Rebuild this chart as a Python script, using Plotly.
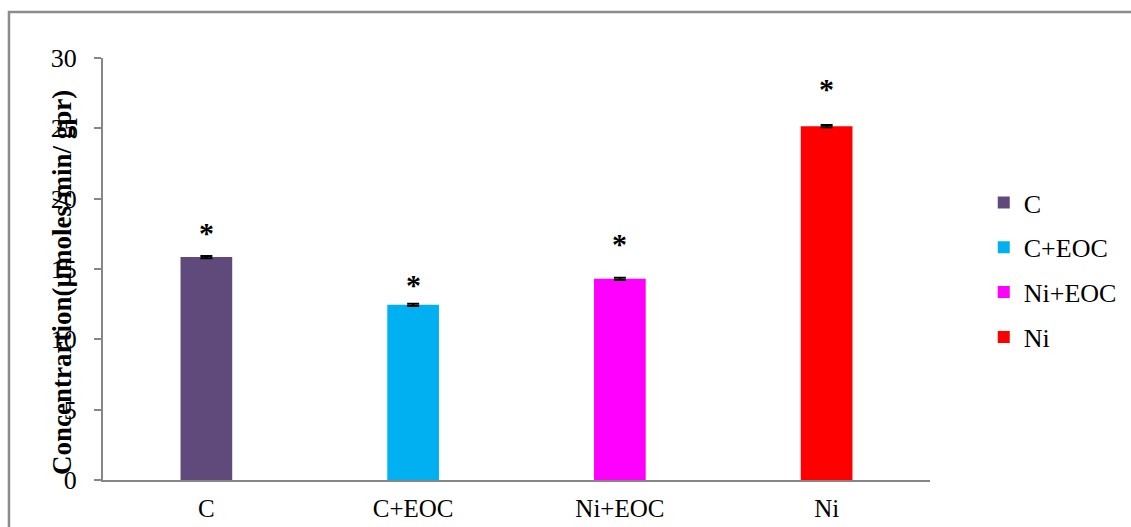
import plotly.graph_objects as go

# Group labels, means and small standard errors
groups = ["C", "C+EOC", "Ni+EOC", "Ni"]
values = [15.85, 12.45, 14.3, 25.15]
errors = [0.08, 0.08, 0.08, 0.08]
colors = ["#604A7B", "#00B0F0", "#FF00FF", "#FF0000"]
# Height (data units) of each significance star
star_y = [18.05, 14.36, 17.27, 28.29]
y_ticks = [0, 5, 10, 15, 20, 25, 30]

FONT = "Liberation Serif, Times New Roman, serif"

fig = go.Figure()
for g, v, e, c in zip(groups, values, errors, colors):
    fig.add_trace(go.Bar(
        x=[g], y=[v], name=g, width=0.25,
        marker=dict(color=c, line=dict(width=0)),
        error_y=dict(type="data", array=[e], visible=True,
                     color="black", thickness=2, width=6),
        legendgroup=g,
    ))

for g, s in zip(groups, star_y):
    fig.add_annotation(x=g, y=s, xref="x", yref="y", text="<b>*</b>",
                       showarrow=False, yanchor="middle", yshift=-6,
                       font=dict(family=FONT, size=30, color="black"))

# Rotated y-axis title, sitting over the tick labels
fig.add_annotation(xref="paper", yref="paper", x=-0.0496, y=0.469,
                   text="<b>Concentrartion(µmoles/min/ gpr)</b>",
                   textangle=-90, showarrow=False,
                   xanchor="center", yanchor="middle",
                   font=dict(family=FONT, size=27, color="black"))

# Outer frame
fig.add_shape(type="rect", xref="paper", yref="paper",
              x0=-0.1137, x1=1.4, y0=-0.3, y1=1.109,
              line=dict(color="#8C8C8C", width=2.5), layer="below")

fig.update_layout(
    width=1131, height=527,
    margin=dict(l=103, r=201, t=58, b=47, autoexpand=False),
    paper_bgcolor="white", plot_bgcolor="white",
    barmode="overlay",
    font=dict(family=FONT, size=26, color="black"),
    showlegend=True,
    legend=dict(x=1.065, y=0.713, xanchor="left", yanchor="top",
                font=dict(family=FONT, size=26, color="black"),
                tracegroupgap=8, itemwidth=30, bgcolor="rgba(0,0,0,0)"),
    xaxis=dict(showline=True, linecolor="#868686", linewidth=2,
               ticks="", showgrid=False, zeroline=False, automargin=False,
               range=[-0.5, 3.5], ticklabelstandoff=5,
               tickfont=dict(family=FONT, size=25, color="black")),
    yaxis=dict(range=[0, 30], tickvals=y_ticks, showline=True,
               linecolor="#868686", linewidth=2, ticks="outside",
               ticklen=7, tickwidth=2, tickcolor="#868686", automargin=False,
               showgrid=False, zeroline=False, ticklabelstandoff=12,
               tickfont=dict(family=FONT, size=26, color="black")),
)

fig.write_html("out.html")
